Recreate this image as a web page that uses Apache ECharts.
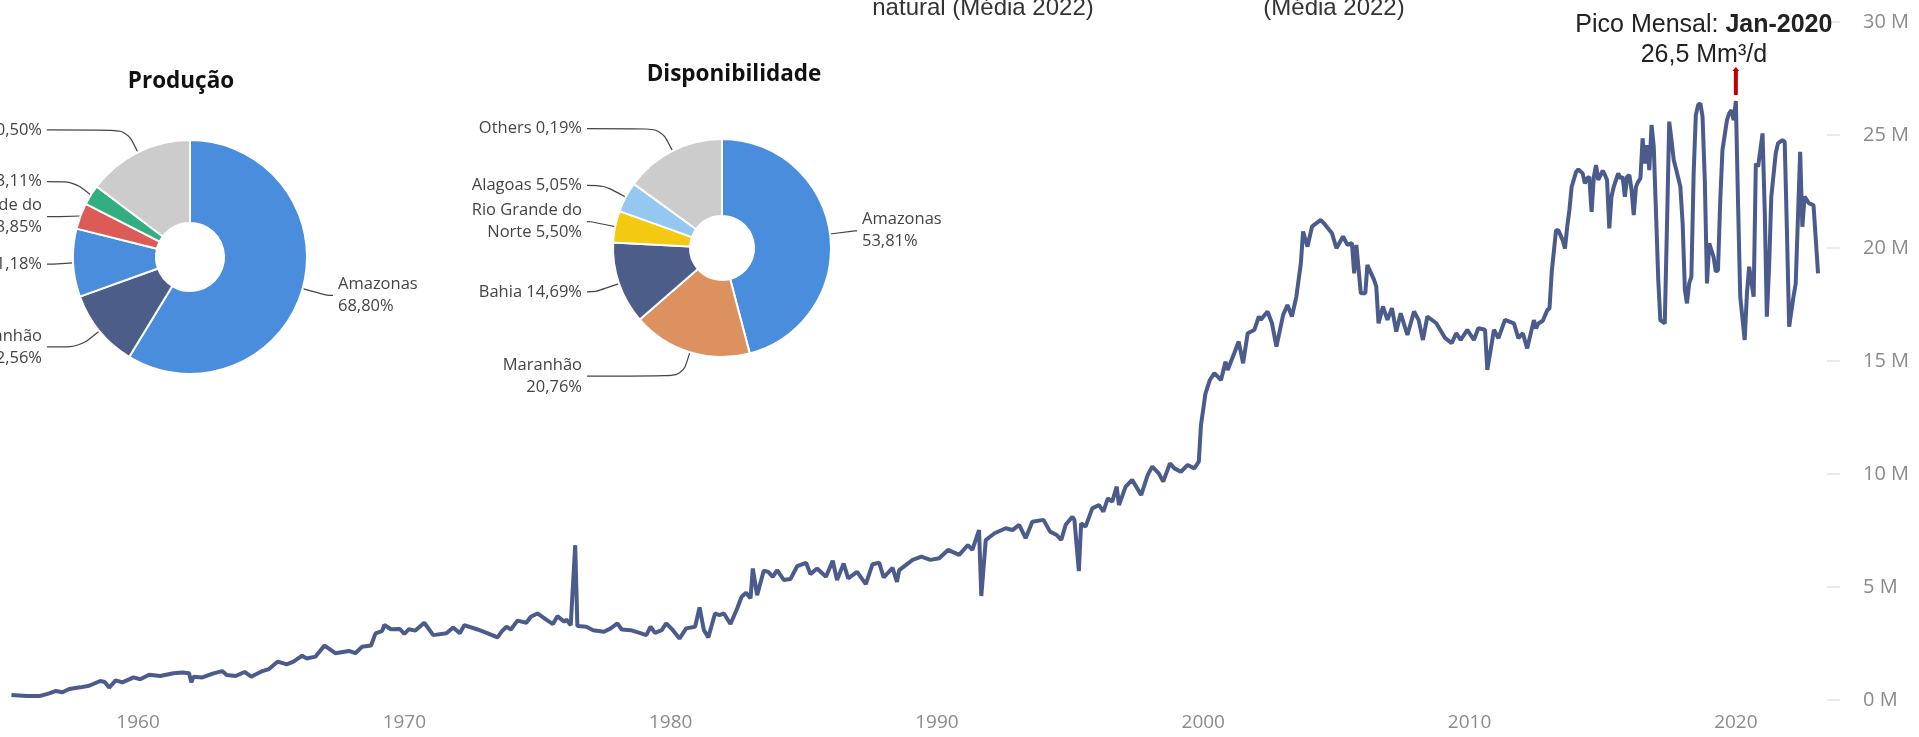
<!DOCTYPE html>
<html>
<head>
<meta charset="utf-8">
<title>Gás natural</title>
<script src="https://cdn.jsdelivr.net/npm/echarts@6/dist/echarts.min.js"></script>
<style>
  html, body { margin: 0; padding: 0; background: #fff; }
  #chart { width: 1919px; height: 737px; }
</style>
</head>
<body>
<div id="chart"></div>
<script>
// participação por estado (rótulos) e tamanho da fatia como aparece no desenho
const prodStates = ['Amazonas', 'Maranhão', 'Bahia', 'Rio Grande do Norte', 'Alagoas', 'Others'];
const prodShare = [68.80, 12.56, 11.18, 3.85, 3.11, 0.50];
const prodArc = [58.7, 10.8, 9.4, 3.6, 2.8, 14.7];

const dispStates = ['Amazonas', 'Maranhão', 'Bahia', 'Rio Grande do Norte', 'Alagoas', 'Others'];
const dispShare = [53.81, 20.76, 14.69, 5.50, 5.05, 0.19];
const dispArc = [45.9, 17.7, 12.2, 4.7, 4.5, 15.0];

// eixos
const yTicks = [0, 5, 10, 15, 20, 25, 30];
const yearTicks = ['1960-01-01', '1970-01-01', '1980-01-01', '1990-01-01', '2000-01-01', '2010-01-01', '2020-01-01'];

// produção mensal, milhões de m³/d
const flowMonths = [
  '1955-04', '1955-11', '1956-05', '1956-09', '1956-12', '1957-03', '1957-06', '1957-11', '1958-03', '1958-08',
  '1958-10', '1958-12', '1959-03', '1959-06', '1959-11', '1960-02', '1960-06', '1960-11', '1961-05', '1961-09',
  '1961-12', '1962-01', '1962-02', '1962-06', '1962-11', '1963-03', '1963-05', '1963-09', '1964-01', '1964-04',
  '1964-09', '1964-12', '1965-04', '1965-08', '1965-11', '1966-03', '1966-05', '1966-09', '1967-01', '1967-06',
  '1967-12', '1968-03', '1968-06', '1968-10', '1968-12', '1969-03', '1969-04', '1969-07', '1969-11', '1970-01',
  '1970-03', '1970-06', '1970-10', '1971-02', '1971-08', '1971-11',
  '1972-02', '1972-04', '1972-10', '1973-02', '1973-07', '1973-09', '1973-11', '1974-01', '1974-04', '1974-08',
  '1974-10', '1975-01', '1975-05', '1975-08', '1975-10', '1976-01', '1976-02', '1976-04', '1976-06', '1976-07',
  '1976-11', '1977-02', '1977-07', '1977-10', '1978-01', '1978-03', '1978-07', '1978-11', '1979-02', '1979-04',
  '1979-06', '1979-09', '1979-11', '1980-02', '1980-05', '1980-08', '1980-12', '1981-02', '1981-04', '1981-06',
  '1981-09', '1981-11', '1982-01', '1982-04', '1982-07', '1982-09', '1982-11', '1983-01', '1983-02', '1983-04',
  '1983-07', '1983-09', '1983-11', '1984-01', '1984-04', '1984-07', '1984-10', '1985-02', '1985-04', '1985-07',
  '1985-11', '1986-02', '1986-04', '1986-07', '1986-09', '1987-01', '1987-05', '1987-08', '1987-11', '1988-01',
  '1988-05', '1988-07', '1988-08',
  '1989-02', '1989-06', '1989-10', '1990-02', '1990-06', '1990-11', '1991-03', '1991-05', '1991-08', '1991-09',
  '1991-11', '1992-03', '1992-08', '1992-11', '1993-02', '1993-05', '1993-08', '1994-01', '1994-04', '1994-07',
  '1994-09', '1994-11', '1995-02', '1995-03', '1995-05', '1995-06', '1995-08', '1995-11', '1996-02', '1996-04',
  '1996-06', '1996-08', '1996-10', '1996-11', '1997-02', '1997-05', '1997-09', '1997-12', '1998-02', '1998-05',
  '1998-07', '1998-10', '1998-12', '1999-03', '1999-06', '1999-09', '1999-11', '1999-12', '2000-02', '2000-04',
  '2000-06', '2000-09', '2000-11', '2000-12', '2001-03', '2001-05', '2001-07', '2001-09', '2001-12', '2002-02',
  '2002-03', '2002-06', '2002-08', '2002-10', '2003-01', '2003-03', '2003-05', '2003-07', '2003-09', '2003-10',
  '2003-12', '2004-02', '2004-03', '2004-06', '2004-08', '2004-11', '2005-01', '2005-04', '2005-06', '2005-08',
  '2005-09', '2005-10', '2005-12', '2006-02', '2006-03', '2006-06', '2006-07', '2006-08', '2006-10', '2006-12',
  '2007-02', '2007-04', '2007-06', '2007-09', '2007-12', '2008-02', '2008-04', '2008-06', '2008-10', '2009-02',
  '2009-05', '2009-07', '2009-09', '2009-12', '2010-03', '2010-05', '2010-08', '2010-09', '2010-12', '2011-02',
  '2011-05', '2011-09', '2011-11', '2012-01', '2012-03',
  '2012-06', '2012-07', '2012-08', '2012-10', '2012-12', '2013-01', '2013-02', '2013-04', '2013-05', '2013-07',
  '2013-08', '2013-09', '2013-10', '2013-11', '2014-01', '2014-02', '2014-04', '2014-05', '2014-06', '2014-07',
  '2014-08', '2014-09', '2014-10', '2014-11', '2015-01', '2015-02', '2015-03', '2015-04', '2015-05', '2015-06',
  '2015-08', '2015-09', '2015-10', '2015-11', '2015-12', '2016-01', '2016-02', '2016-03', '2016-04', '2016-05',
  '2016-06', '2016-07', '2016-08', '2016-09', '2016-10', '2016-11', '2016-12', '2017-01', '2017-02', '2017-03',
  '2017-05', '2017-06', '2017-07', '2017-08', '2017-09', '2017-10', '2017-12', '2018-01', '2018-02', '2018-03',
  '2018-04', '2018-05', '2018-06', '2018-07', '2018-08', '2018-09', '2018-10', '2018-11', '2018-12', '2019-01',
  '2019-03', '2019-04', '2019-05', '2019-06', '2019-07', '2019-09', '2019-10', '2019-11', '2019-12', '2020-01',
  '2020-02', '2020-03', '2020-05', '2020-06', '2020-07', '2020-09', '2020-10', '2020-11', '2021-01', '2021-02',
  '2021-03', '2021-04', '2021-05', '2021-07', '2021-08', '2021-10', '2021-11', '2021-12', '2022-01', '2022-03',
  '2022-04', '2022-06', '2022-07', '2022-08', '2022-10', '2022-12', '2023-02'
];
const flowValues = [
  0.22, 0.18, 0.18, 0.29, 0.40, 0.34, 0.49, 0.56, 0.63, 0.84,
  0.80, 0.55, 0.87, 0.78, 1.00, 0.92, 1.12, 1.06, 1.18, 1.22,
  1.18, 0.78, 1.03, 1.00, 1.18, 1.28, 1.11, 1.06, 1.24, 1.03,
  1.28, 1.37, 1.70, 1.58, 1.70, 1.96, 1.84, 1.92, 2.41, 2.07,
  2.17, 2.07, 2.36, 2.41, 2.95, 3.05, 3.32, 3.13, 3.14, 2.92,
  3.13, 3.07, 3.42, 2.87, 2.95, 3.21,
  2.95, 3.31, 3.12, 2.97, 2.77, 3.05, 3.24, 3.12, 3.51, 3.42,
  3.68, 3.83, 3.56, 3.36, 3.71, 3.46, 3.56, 3.31, 6.85, 3.27,
  3.24, 3.09, 3.02, 3.17, 3.39, 3.12, 3.09, 2.97, 2.87, 3.24,
  2.97, 3.09, 3.39, 3.09, 2.72, 3.17, 3.24, 4.10, 3.09, 2.77,
  3.83, 3.76, 3.83, 3.36, 4.05, 4.57, 4.75, 4.50, 5.82, 4.64,
  5.72, 5.67, 5.45, 5.75, 5.31, 5.35, 5.92, 6.07, 5.57, 5.82,
  5.45, 6.16, 5.31, 6.04, 5.38, 5.67, 5.13, 6.01, 6.07, 5.42,
  5.85, 5.23, 5.75,
  6.20, 6.34, 6.20, 6.27, 6.64, 6.42, 6.86, 6.64, 7.52, 4.60,
  7.08, 7.38, 7.60, 7.52, 7.75, 7.16, 7.89, 7.97, 7.45, 7.30,
  7.08, 7.75, 8.11, 7.97, 5.70, 7.82, 7.67, 8.48, 8.63, 8.33,
  8.92, 8.78, 9.44, 8.63, 9.44, 9.74, 9.07, 9.96, 10.33, 10.03,
  9.66, 10.47, 10.25, 10.10, 10.40, 10.25, 10.55, 12.17, 13.57, 14.16,
  14.46, 14.16, 14.97, 14.60, 15.34, 15.86, 14.90, 16.23, 16.37, 16.96,
  16.82, 17.19, 16.67, 15.64, 17.04, 17.48, 16.97, 17.85, 19.33, 20.73,
  20.06, 20.95, 21.02, 21.24, 21.02, 20.65, 19.99, 20.51, 20.14, 20.21,
  18.88, 20.14, 18.00, 18.00, 19.25, 18.59, 18.29, 16.67, 17.41, 16.82,
  17.34, 16.30, 17.11, 16.15, 17.19, 16.82, 15.93, 16.97, 16.67, 16.01,
  15.79, 16.23, 15.93, 16.38, 15.93, 16.45, 16.38, 14.61, 16.38, 16.01,
  16.82, 16.67, 16.01, 16.23, 15.56,
  16.81, 16.44, 16.66, 16.78, 17.25, 17.33, 18.95, 20.79, 20.79, 20.35,
  19.98, 20.94, 21.68, 22.71, 23.37, 23.48, 23.30, 22.86, 23.08, 23.15,
  21.60, 23.15, 23.67, 23.01, 23.42, 23.23, 23.01, 20.87, 22.27, 22.71,
  23.30, 23.08, 23.15, 22.27, 23.15, 23.23, 22.56, 21.46, 22.71, 22.93,
  23.08, 24.85, 23.74, 24.55, 23.45, 25.44, 24.48, 21.53, 18.58, 16.81,
  16.66, 21.09, 25.59, 24.78, 23.89, 23.52, 22.71, 21.09, 18.14, 17.55,
  18.43, 18.73, 23.30, 25.88, 26.32, 26.40, 25.81, 23.01, 18.43, 20.20,
  19.61, 18.95, 19.02, 22.12, 24.33, 25.66, 25.96, 26.10, 25.66, 26.50,
  21.83, 17.84, 15.93, 17.99, 19.17, 17.84, 23.74, 23.60, 25.07, 21.53,
  16.96, 19.17, 22.27, 24.19, 24.63, 24.78, 24.70, 20.79, 16.52, 17.84,
  18.43, 24.26, 20.94, 22.27, 21.97, 21.90, 18.88
];

const monthAbbr = ['Jan', 'Fev', 'Mar', 'Abr', 'Mai', 'Jun', 'Jul', 'Ago', 'Set', 'Out', 'Nov', 'Dez'];

const peakIdx = flowValues.indexOf(Math.max(...flowValues));
const peakMonth = flowMonths[peakIdx];
const peakValue = flowValues[peakIdx];

function fmtPct(v) {
    return v.toFixed(2).replace('.', ',') + '%';
}

function sliceLabel(name, pct) {
    const p = fmtPct(pct);
    if (name === 'Rio Grande do Norte') return 'Rio Grande do\nNorte ' + p;
    if (name === 'Amazonas' || name === 'Maranhão') return name + '\n' + p;
    return name + ' ' + p;
}

const labelFont = 'Open Sans, Noto Sans, sans-serif';
const arialFont = '"Liberation Sans", Arial, sans-serif';
const axisColor = '#8b8b8b';

function makePie(states, share, arc, colors, center, radius) {
    const reach = 26; // fim horizontal da linha do rótulo, além do raio externo
    return {
        type: 'pie',
        center: center,
        radius: radius,
        startAngle: 90,
        clockwise: true,
        silent: true,
        avoidLabelOverlap: true,
        itemStyle: { borderColor: '#fff', borderWidth: 2 },
        label: {
            show: true,
            position: 'outside',
            distanceToLabelLine: 5,
            width: 200,
            overflow: 'none',
            color: '#444',
            fontFamily: labelFont,
            fontSize: 16.5,
            lineHeight: 22,
            formatter: function (p) {
                return sliceLabel(states[p.dataIndex], share[p.dataIndex]);
            }
        },
        labelLine: {
            length: 25,
            length2: 1,
            smooth: 0.3,
            lineStyle: { color: '#444', width: 1.2 }
        },
        // rótulos de cada lado alinhados pelo fim da linha (como no Power BI)
        labelLayout: function (params) {
            const pts = params.labelLinePoints;
            if (!pts) return {};
            const isLeft = pts[2][0] < center[0];
            const endX = center[0] + (isLeft ? -1 : 1) * (radius[1] + reach);
            const y = pts[2][1];
            return {
                x: endX + (isLeft ? -5 : 5),
                y: y,
                align: isLeft ? 'right' : 'left',
                verticalAlign: 'middle',
                labelLinePoints: [pts[0], pts[1], [endX, y]]
            };
        },
        data: states.map(function (s, i) {
            return { name: s, value: arc[i], itemStyle: { color: colors[i] } };
        })
    };
}

let dom = echarts.init(document.getElementById('chart'));
let option = {
    animation: false,
    backgroundColor: '#fff',
    title: [
        {
            text: 'Produção', left: 181, top: 70, textAlign: 'center', padding: 0,
            textStyle: { fontFamily: labelFont, fontWeight: 'bold', fontSize: 22.5, color: '#111' }
        },
        {
            text: 'Disponibilidade', left: 734, top: 63, textAlign: 'center', padding: 0,
            textStyle: { fontFamily: labelFont, fontWeight: 'bold', fontSize: 22.5, color: '#111' }
        }
    ],
    graphic: [
        {
            type: 'text', x: 983, y: 8,
            style: {
                text: 'natural (Média 2022)', font: '24px ' + arialFont,
                fill: '#333', align: 'center', verticalAlign: 'middle',
                textAlign: 'center', textVerticalAlign: 'middle'
            }
        },
        {
            type: 'text', x: 1334, y: 8,
            style: {
                text: '(Média 2022)', font: '24px ' + arialFont,
                fill: '#333', align: 'center', verticalAlign: 'middle',
                textAlign: 'center', textVerticalAlign: 'middle'
            }
        }
    ],
    grid: { left: 0, right: 92, top: 22, bottom: 37, containLabel: false },
    xAxis: {
        type: 'time',
        min: '1954-10-26',
        max: '2023-06-04',
        axisLine: { show: false },
        axisTick: { show: false },
        splitLine: { show: false },
        axisLabel: {
            customValues: yearTicks,
            formatter: '{yyyy}',
            color: axisColor,
            fontFamily: labelFont,
            fontSize: 19,
            margin: 13
        }
    },
    yAxis: {
        type: 'value',
        position: 'right',
        min: yTicks[0],
        max: yTicks[yTicks.length - 1],
        interval: 5,
        axisLine: { show: false },
        axisTick: { show: true, length: 13, lineStyle: { color: '#e3e3e3', width: 1.5 } },
        splitLine: { show: false },
        axisLabel: {
            margin: 36,
            color: axisColor,
            fontFamily: labelFont,
            fontSize: 20,
            formatter: '{value} M'
        }
    },
    series: [
        {
            type: 'line',
            data: flowMonths.map(function (m, i) { return [m, flowValues[i]]; }),
            showSymbol: false,
            symbol: 'none',
            lineStyle: { color: '#4a5b8c', width: 4 },
            itemStyle: { color: '#4a5b8c' },
            markPoint: {
                symbol: 'path://M3.5,0 L7,4 L5.5,4 L5.5,28 L1.5,28 L1.5,4 L0,4 Z',
                symbolSize: [7, 28],
                symbolOffset: [0, -20],
                itemStyle: { color: '#c00000' },
                label: {
                    show: true,
                    position: 'top',
                    distance: 0,
                    offset: [-32, 3],
                    color: '#222',
                    fontFamily: arialFont,
                    fontSize: 25,
                    lineHeight: 30,
                    align: 'center',
                    formatter: function () {
                        const parts = peakMonth.split('-');
                        const mon = monthAbbr[parseInt(parts[1], 10) - 1] + '-' + parts[0];
                        return 'Pico Mensal: {b|' + mon + '}\n' + peakValue.toFixed(1).replace('.', ',') + ' Mm³/d';
                    },
                    rich: {
                        b: {
                            fontWeight: 'bold', fontSize: 25, lineHeight: 30, color: '#222',
                            fontFamily: arialFont
                        }
                    }
                },
                data: [{ coord: [peakMonth, peakValue] }]
            }
        },
        makePie(prodStates, prodShare, prodArc,
            ['#4a8ddc', '#4c5d8a', '#4a8ddc', '#dc5b57', '#33ae81', '#cccccc'],
            [190, 257], [34, 117]),
        makePie(dispStates, dispShare, dispArc,
            ['#4a8ddc', '#dd915f', '#4c5d8a', '#f3c911', '#95c8f0', '#cccccc'],
            [722, 248], [32, 109])
    ]
};
dom.setOption(option);
</script>
</body>
</html>
